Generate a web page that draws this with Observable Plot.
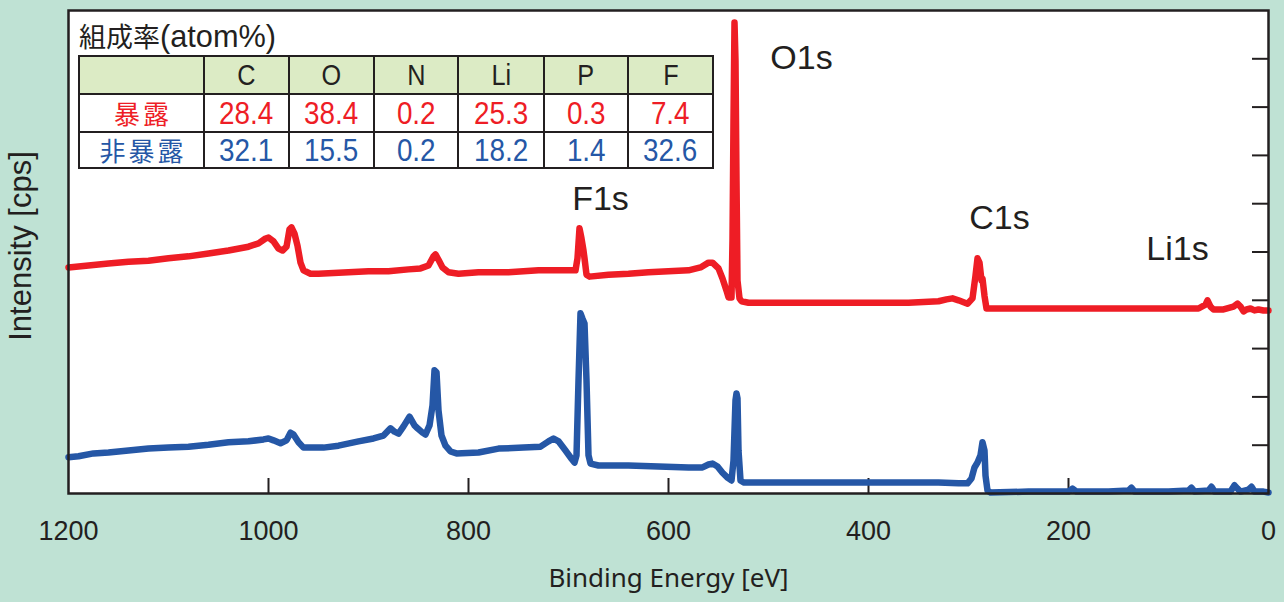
<!DOCTYPE html>
<html><head><meta charset="utf-8">
<script src="https://cdn.jsdelivr.net/npm/d3@7"></script>
<script src="https://cdn.jsdelivr.net/npm/@observablehq/plot@0.6"></script>
<style>
html,body{margin:0;padding:0;background:#bfe2d4;}
#wrap{position:relative;width:1284px;height:602px;overflow:hidden;}
#title{position:absolute;left:79px;top:18px;color:#231f20;line-height:36px;white-space:nowrap;}
#title .cjk{font-family:"Noto Sans CJK JP",sans-serif;font-size:27px;}
#title .lat{font-family:"Liberation Sans",sans-serif;font-size:32px;display:inline-block;transform:scaleX(.96);transform-origin:left center;}
#comp{position:absolute;left:78px;top:55px;border-collapse:collapse;table-layout:fixed;width:634px;}
#comp td{border:2px solid #231f20;padding:0;text-align:center;font-family:"Liberation Sans",sans-serif;font-size:32px;line-height:1;}
#comp td span{display:inline-block;transform:scaleX(.87);}
#comp tr.h td{background:#dcebc5;height:36px;color:#231f20;font-size:29px;}
#comp tr.r td{background:#fff;height:36px;}
#comp tr.r2 td{height:34px;}
#comp td.lab{font-family:"Noto Sans CJK JP",sans-serif;font-size:26px;letter-spacing:3px;}
#comp td.lab span{transform:none;padding-left:3px;}
</style>
</head><body>
<div id="wrap"></div>
<script>
// Composition table (atom%)
const elements = ["C","O","N","Li","P","F"];
const rowLabels = ["暴露","非暴露"];
const exposedPct = [28.4,38.4,0.2,25.3,0.3,7.4];
const unexposedPct = [32.1,15.5,0.2,18.2,1.4,32.6];
const titleCJK = "組成率";
const titleUnit = "(atom%)";

// Spectra: binding energy (eV) and intensity (arbitrary units)
const energyExposed = [1200,1180,1160,1140,1120,1100,1080,1060,1040,1020,1010,1003,1000,995,990,986,982,979,977,974,971,968,965,958,950,920,900,880,860,848,840,835,833,830,826,820,810,790,760,730,700,693,691,689,687,685,684,682,679,660,640,620,600,580,568,560,556,550,546,542,540,537,536,535,534,533,532,531,529,527,520,480,440,400,360,330,322,316,310,301,296,293,291,289,287,286,284,282,260,220,180,140,100,70,63,61,58,55,45,35,31,28,25,22,18,14,10,5,0];
const intensityExposed = [4.68,4.72,4.76,4.80,4.82,4.87,4.91,4.97,5.03,5.11,5.18,5.28,5.30,5.22,5.07,5.03,5.11,5.47,5.51,5.38,5.13,4.78,4.62,4.55,4.55,4.58,4.60,4.60,4.64,4.66,4.72,4.91,4.95,4.84,4.68,4.58,4.55,4.58,4.58,4.62,4.62,4.62,4.87,5.49,5.28,5.03,4.87,4.53,4.49,4.53,4.55,4.58,4.60,4.62,4.68,4.78,4.78,4.66,4.45,4.20,4.06,4.06,5.24,7.72,9.75,8.96,6.48,4.41,4.04,3.98,3.95,3.95,3.95,3.95,3.95,3.98,4.02,4.04,4.00,3.93,4.04,4.51,4.87,4.78,4.41,4.45,4.09,3.83,3.83,3.83,3.83,3.83,3.83,3.83,3.91,4.00,3.87,3.81,3.81,3.87,3.93,3.87,3.77,3.81,3.83,3.79,3.81,3.79,3.79];
const energyUnexposed = [1200,1190,1175,1160,1140,1120,1100,1080,1060,1040,1020,1005,1000,995,988,982,978,975,970,965,955,945,930,910,895,885,878,874,870,865,859,854,851,846,843,839,836,834,832,830,827,823,818,812,790,770,745,728,720,715,710,703,697,694,692,690,688,686,684,682,680,678,670,640,610,580,566,560,556,551,546,541,537,535,533,532,531,530,528,525,500,460,420,390,360,330,310,301,297,294,291,288,286,284,283,281,278,240,200,196,192,160,140,137,134,100,80,77,74,60,57,54,38,34,31,28,20,17,14,5,0];
const intensityUnexposed = [0.75,0.77,0.83,0.85,0.89,0.93,0.95,0.97,1.01,1.06,1.08,1.12,1.14,1.10,1.04,1.10,1.26,1.22,1.06,0.95,0.95,0.95,0.99,1.08,1.14,1.20,1.35,1.28,1.24,1.39,1.59,1.41,1.35,1.26,1.22,1.41,1.82,2.55,2.51,1.72,1.20,0.99,0.87,0.83,0.85,0.93,0.95,0.97,1.08,1.14,1.08,0.89,0.72,0.64,0.79,2.34,3.73,3.62,3.52,2.34,0.79,0.62,0.58,0.58,0.56,0.54,0.54,0.60,0.62,0.56,0.43,0.33,0.27,0.68,1.93,2.07,1.97,0.89,0.27,0.23,0.23,0.23,0.23,0.23,0.23,0.23,0.21,0.21,0.31,0.54,0.64,0.79,1.06,0.89,0.37,0.06,0.02,0.04,0.04,0.10,0.04,0.04,0.06,0.12,0.04,0.04,0.06,0.12,0.04,0.06,0.14,0.04,0.04,0.17,0.10,0.04,0.08,0.14,0.04,0.04,0.02];

// Peak labels
const peakNames = ["O1s","F1s","C1s","Li1s"];
const peakEnergy = [467,668,269,91];
const peakIntensity = [9.02,6.10,5.71,5.06];

// Axis ticks
const xTickValues = [1200,1000,800,600,400,200,0];
const xInnerTicks = [1000,800,600,400,200];
const yInnerTicks = [1,2,3,4,5,6,7,8,9];
const xLabel = "Binding Energy [eV]";
const yLabel = "Intensity [cps]";

const RED = "#ee1d25", BLUE = "#2557a6", INK = "#231f20";

const exposed = energyExposed.map((e,i)=>({e, v:intensityExposed[i]}));
const unexposed = energyUnexposed.map((e,i)=>({e, v:intensityUnexposed[i]}));
const peaks = peakNames.map((name,i)=>({name, e:peakEnergy[i], v:peakIntensity[i]}));

const chart = Plot.plot({
  width:1284, height:602,
  marginLeft:68, marginRight:16, marginTop:10, marginBottom:109,
  style:{background:"transparent", overflow:"visible"},
  x:{domain:[1200,0], axis:null},
  y:{domain:[0,10], axis:null},
  marks:[
    Plot.frame({fill:"white", stroke:null}),
    Plot.tickX(xInnerTicks, {x:d=>d, insetTop:468, stroke:INK, strokeWidth:2}),
    Plot.tickY(yInnerTicks, {y:d=>d, insetLeft:1184, stroke:INK, strokeWidth:2}),
    Plot.line(unexposed, {x:"e", y:"v", stroke:BLUE, strokeWidth:6.5}),
    Plot.line(exposed, {x:"e", y:"v", stroke:RED, strokeWidth:6.5}),
    Plot.frame({stroke:INK, strokeWidth:2.5}),
    Plot.text(xTickValues, {x:d=>d, text:d=>String(d), frameAnchor:"bottom", lineAnchor:"middle", textAnchor:"middle", dy:38, fontSize:27, fontFamily:"Liberation Sans", fill:INK}),
    Plot.text(peaks, {x:"e", y:"v", text:"name", fontSize:34, fontFamily:"Liberation Sans", fill:INK}),
    Plot.text([xLabel], {frameAnchor:"bottom", lineAnchor:"middle", textAnchor:"middle", dy:85, fontSize:26, fontFamily:"Noto Sans", fill:INK}),
    Plot.text([yLabel], {frameAnchor:"left", lineAnchor:"middle", textAnchor:"middle", rotate:-90, dx:-47, dy:-6, fontSize:31, fontFamily:"Liberation Sans", fill:INK})
  ]
});
const wrap = document.getElementById("wrap");
wrap.appendChild(chart);

// Table overlay
const title = document.createElement("div");
title.id = "title";
title.innerHTML = `<span class="cjk">${titleCJK}</span><span class="lat">${titleUnit}</span>`;
wrap.appendChild(title);

const table = document.createElement("table");
table.id = "comp";
const colgroup = document.createElement("colgroup");
[125,85,85,84,86,84,85].forEach(w=>{const c=document.createElement("col"); c.style.width=w+"px"; colgroup.appendChild(c);});
table.appendChild(colgroup);
const hr = document.createElement("tr"); hr.className="h";
hr.appendChild(document.createElement("td"));
elements.forEach(el=>{const td=document.createElement("td"); td.innerHTML=`<span>${el}</span>`; hr.appendChild(td);});
table.appendChild(hr);
[[rowLabels[0],exposedPct,RED,"r"],[rowLabels[1],unexposedPct,BLUE,"r r2"]].forEach(([lab,vals,col,cls])=>{
  const tr=document.createElement("tr"); tr.className=cls;
  const th=document.createElement("td"); th.className="lab"; th.innerHTML=`<span>${lab}</span>`; th.style.color=col; tr.appendChild(th);
  vals.forEach(v=>{const td=document.createElement("td"); td.innerHTML=`<span>${v.toFixed(1)}</span>`; td.style.color=col; tr.appendChild(td);});
  table.appendChild(tr);
});
wrap.appendChild(table);
</script>
</body></html>
